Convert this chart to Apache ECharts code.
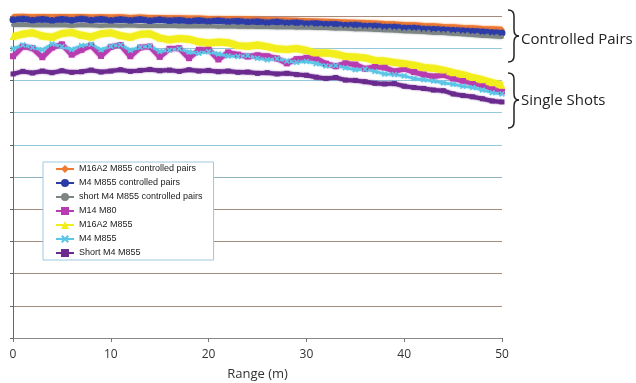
<!DOCTYPE html>
<html>
<head>
<meta charset="utf-8">
<script src="https://cdn.jsdelivr.net/npm/echarts@6/dist/echarts.min.js"></script>
<style>
  html, body { margin: 0; padding: 0; background: #fff; }
  #chartDiv { width: 636px; height: 383px; }
</style>
</head>
<body>
<div id="chartDiv"></div>
<script>
// range in metres, one reading per metre
const ranges = [];
for (let r = 0; r <= 50; r++) ranges.push(r);

const seriesNames = [
  'M16A2 M855 controlled pairs',
  'M4 M855 controlled pairs',
  'short M4 M855 controlled pairs',
  'M14 M80',
  'M16A2 M855',
  'M4 M855',
  'Short M4 M855'
];

const m16a2Pairs = [99.7,99.8,99.6,99.7,99.6,99.7,99.6,99.7,99.5,99.6,99.5,99.6,99.4,99.5,99.4,99.4,99.3,99.3,99.2,99.2,
  99.1,99.1,99.0,99.0,98.9,98.8,98.7,98.7,98.6,98.5,98.4,98.3,98.2,98.1,98.0,97.9,97.8,97.7,97.5,97.4,
  97.2,97.1,96.9,96.8,96.6,96.5,96.3,96.2,96.0,95.9,95.7];
const m4Pairs = [98.8,99.1,98.7,99.0,98.6,99.0,98.7,99.1,98.7,99.0,98.6,98.9,98.6,98.9,98.5,98.8,98.5,98.7,98.4,98.6,
  98.3,98.5,98.2,98.4,98.1,98.2,97.9,98.1,97.8,97.9,97.6,97.7,97.4,97.4,97.1,97.2,96.9,96.9,96.6,96.6,
  96.3,96.3,96.0,95.9,95.7,95.6,95.4,95.3,95.1,94.9,94.7];
const shortM4Pairs = [97.2,97.3,97.1,97.2,97.1,97.2,97.0,97.2,97.1,97.0,97.1,97.0,97.1,96.9,97.0,96.9,97.0,96.8,96.9,96.8,
  96.9,96.7,96.8,96.7,96.7,96.6,96.6,96.5,96.6,96.4,96.5,96.3,96.3,96.1,96.1,95.9,95.9,95.7,95.6,95.5,
  95.3,95.2,95.0,94.8,94.7,94.5,94.3,94.1,93.9,93.7,93.5];
const m14M80 = [87.5,90.5,90.0,87.2,90.2,91.2,88.0,89.5,90.8,87.6,90.4,91.0,87.5,90.2,90.5,87.3,89.8,90.0,86.9,89.5,
  89.6,86.5,88.7,88.0,87.4,87.8,87.5,86.8,85.3,86.6,87.0,86.8,85.2,84.4,85.3,84.9,83.6,84.2,84.0,82.8,
  83.6,82.6,81.8,81.2,81.7,80.6,79.9,79.2,78.5,77.4,76.6];
const m16a2Single = [93.6,94.4,94.8,93.8,93.4,94.6,94.9,94.0,93.5,94.5,94.8,93.9,93.4,94.3,94.5,93.2,92.6,93.0,92.8,92.0,
  91.6,91.9,91.7,90.8,90.6,91.0,90.5,89.8,89.6,89.9,89.3,88.5,88.6,88.2,87.4,87.3,87.0,86.2,86.0,85.6,
  85.2,84.7,84.0,83.8,83.2,82.4,81.8,80.9,80.2,79.3,78.5];
const m4Single = [89.8,91.0,90.2,89.5,91.3,90.5,89.6,90.8,91.2,89.5,90.6,91.0,89.4,90.3,90.6,89.0,89.4,89.8,88.8,88.4,
  88.9,88.2,87.6,87.4,87.7,86.9,86.4,86.7,86.0,85.6,85.9,85.2,84.5,84.6,83.9,83.3,83.5,82.8,82.0,81.8,
  81.4,80.6,80.2,79.8,79.2,78.8,78.2,77.8,77.0,76.2,75.8];
const shortM4Single = [82.0,82.8,82.3,82.9,82.4,83.0,82.5,82.7,83.2,82.6,82.9,83.3,82.8,83.1,83.4,83.0,83.2,82.8,83.3,82.9,
  83.1,82.7,82.9,82.5,82.6,82.2,82.4,82.0,82.2,81.8,81.6,81.0,80.6,80.9,80.1,80.0,79.6,79.1,78.9,79.0,
  78.2,77.8,77.5,77.0,76.8,75.8,75.3,74.9,74.3,73.6,73.3];

const xTicks = [0, 10, 20, 30, 40, 50];

const crossIcon = 'path://M0,2L2,0L5,3L8,0L10,2L7,5L10,8L8,10L5,7L2,10L0,8L3,5Z';

let chart = echarts.init(document.getElementById('chartDiv'));

function pairUp(vals) {
  return vals.map((v, i) => [ranges[i], v]);
}

function makeSeries(name, vals, color, symbol, size, width) {
  return {
    name: name,
    type: 'line',
    data: pairUp(vals),
    symbol: symbol,
    symbolSize: size,
    showSymbol: true,
    smooth: false,
    animation: false,
    itemStyle: { color: color },
    lineStyle: { color: color, width: width, shadowBlur: 2, shadowColor: color }
  };
}

const series = [
  makeSeries(seriesNames[0], m16a2Pairs, '#f07a32', 'diamond', 6, 6),
  makeSeries(seriesNames[1], m4Pairs, '#2b3ba8', 'circle', 7, 6),
  makeSeries(seriesNames[2], shortM4Pairs, '#7d8584', 'circle', 4, 4),
  makeSeries(seriesNames[3], m14M80, '#b83cb0', 'rect', 6, 5),
  makeSeries(seriesNames[4], m16a2Single, '#f2ee1c', 'triangle', 7, 7),
  makeSeries(seriesNames[5], m4Single, '#5cc6e6', crossIcon, 6, 2.5),
  makeSeries(seriesNames[6], shortM4Single, '#6a2a8e', 'rect', 5, 4)
];

// grid line colours for values 10, 20 ... 100
const gridColors = ['#a58c80', '#a58c80', '#a58c80', '#a58c80', '#a58c80', '#8fb3c2',
  '#94c6dc', '#94c6dc', '#94c6dc', '#94c6dc'];

// curly brace made of curves and lines, x is the open side
function braceParts(x, top, mid, bottom) {
  const st = { stroke: '#222', lineWidth: 1.5, fill: 'none' };
  const xs = x + 6, xt = x + 11;
  return [
    { type: 'bezierCurve', shape: { x1: x, y1: top, cpx1: xs, cpy1: top, x2: xs, y2: top + 6 }, style: st },
    { type: 'line', shape: { x1: xs, y1: top + 6, x2: xs, y2: mid - 6 }, style: st },
    { type: 'bezierCurve', shape: { x1: xs, y1: mid - 6, cpx1: xs, cpy1: mid, x2: xt, y2: mid }, style: st },
    { type: 'bezierCurve', shape: { x1: xt, y1: mid, cpx1: xs, cpy1: mid, x2: xs, y2: mid + 6 }, style: st },
    { type: 'line', shape: { x1: xs, y1: mid + 6, x2: xs, y2: bottom - 6 }, style: st },
    { type: 'bezierCurve', shape: { x1: xs, y1: bottom - 6, cpx1: xs, cpy1: bottom, x2: x, y2: bottom }, style: st }
  ];
}

const option = {
  animation: false,
  backgroundColor: '#fff',
  grid: { left: 13, right: 134, top: 16, bottom: 45, outerBoundsMode: 'none', containLabel: false },
  legend: {
    orient: 'vertical',
    left: 43,
    top: 162,
    padding: [2, 11, 2, 12],
    itemWidth: 18,
    itemHeight: 10,
    itemGap: 4,
    backgroundColor: '#fff',
    borderColor: '#9cc8dc',
    borderWidth: 1,
    borderRadius: 0,
    textStyle: { fontFamily: 'Liberation Sans', fontSize: 9, color: '#222', lineHeight: 10 },
    data: seriesNames
  },
  xAxis: {
    type: 'value',
    min: 0,
    max: 50,
    interval: 10,
    name: 'Range (m)',
    nameLocation: 'middle',
    nameGap: 30,
    nameTextStyle: { fontFamily: 'Open Sans', fontSize: 13, color: '#333' },
    axisLine: { show: true, lineStyle: { color: '#8a8a8a', width: 1 } },
    axisTick: { show: true, length: 4, lineStyle: { color: '#777' } },
    axisLabel: {
      fontFamily: 'Open Sans', fontSize: 12, color: '#333', margin: 11,
      formatter: v => xTicks.includes(v) ? String(v) : ''
    },
    splitLine: { show: false }
  },
  yAxis: {
    type: 'value',
    min: 0,
    max: 100,
    interval: 10,
    axisLine: { show: true, onZero: false, lineStyle: { color: '#666', width: 1 } },
    axisTick: { show: true, length: 3, lineStyle: { color: '#666' } },
    axisLabel: { show: false },
    splitLine: { show: true, lineStyle: { color: gridColors, width: 1 } }
  },
  series: series,
  graphic: [
    ...braceParts(508, 10, 36, 62),
    ...braceParts(508, 73, 100, 128),
    {
      type: 'text',
      left: 521,
      top: 32,
      style: { text: 'Controlled Pairs', fontFamily: 'Open Sans', fontSize: 15, fill: '#222' }
    },
    {
      type: 'text',
      left: 521,
      top: 93,
      style: { text: 'Single Shots', fontFamily: 'Open Sans', fontSize: 15, fill: '#222' }
    }
  ]
};

chart.setOption(option);
</script>
</body>
</html>
